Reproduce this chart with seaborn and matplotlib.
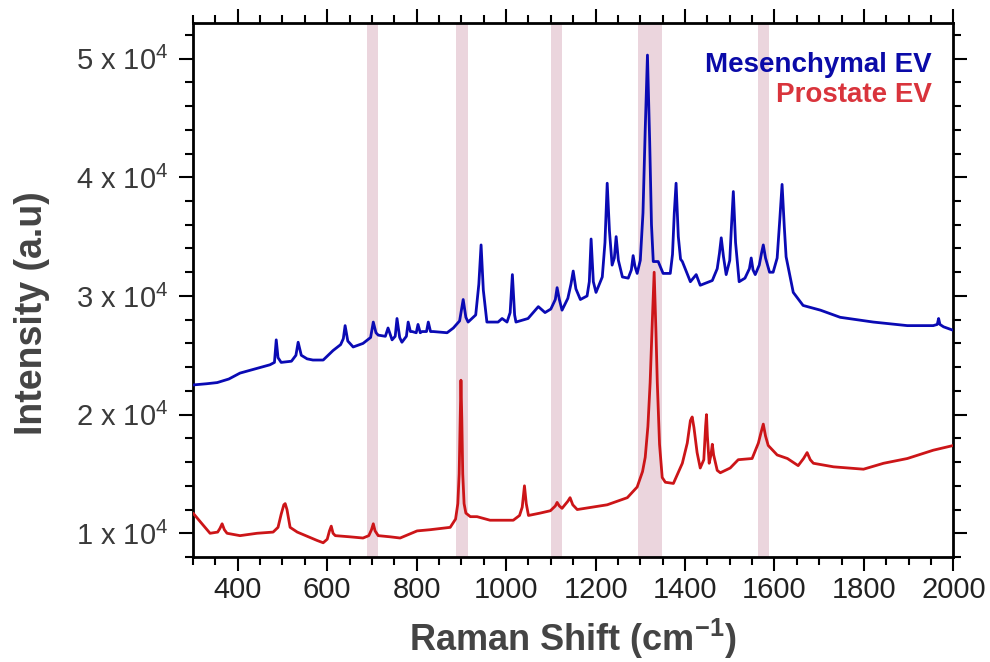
import matplotlib
matplotlib.use("Agg")
import matplotlib.pyplot as plt
import pandas as pd
import seaborn as sns
from matplotlib.ticker import MultipleLocator, FuncFormatter

# Raman spectra (shift in cm-1, intensity in a.u.)
mesen_shift = [300, 330, 354, 380, 405, 443, 472, 482, 486, 490, 497, 520, 530, 535, 542, 555, 568, 591,
               613, 630, 636, 640, 646, 658, 680, 697, 703, 709, 714, 730, 736, 745, 752, 756, 762, 767,
               777, 781, 786, 790, 799, 803, 808, 812, 822, 826, 831, 837, 868, 882, 896, 904, 910, 915,
               932, 939, 944, 949, 957, 982, 991, 1002, 1009, 1014, 1019, 1022, 1049, 1072, 1087, 1100,
               1110, 1114, 1119, 1125, 1138, 1145, 1150, 1156, 1166, 1181, 1186, 1190, 1195, 1201, 1215,
               1221, 1226, 1231, 1237, 1242, 1246, 1251, 1260, 1273, 1280, 1284, 1288, 1293, 1300, 1306,
               1311, 1316, 1321, 1325, 1329, 1340, 1351, 1367, 1372, 1376, 1380, 1385, 1390, 1394, 1412,
               1425, 1434, 1461, 1472, 1477, 1481, 1486, 1492, 1500, 1504, 1508, 1513, 1521, 1534, 1544,
               1548, 1552, 1557, 1566, 1571, 1575, 1580, 1589, 1597, 1606, 1612, 1617, 1622, 1626, 1642,
               1664, 1703, 1747, 1821, 1897, 1955, 1964, 1967, 1970, 1978, 2000]
mesen_int = [22500, 22600, 22700, 23000, 23500, 23900, 24200, 24400, 26300, 24800, 24400, 24500, 25000,
             26100, 25000, 24700, 24600, 24600, 25400, 25900, 26400, 27500, 26200, 25700, 26000, 26500,
             27800, 26900, 26700, 26600, 27300, 26300, 26600, 28100, 26500, 26100, 26600, 27800, 27000,
             27000, 26900, 27600, 26900, 27000, 27000, 27800, 27000, 27000, 26900, 27300, 27900, 29700,
             28200, 27800, 28400, 31000, 34300, 30500, 27800, 27800, 28100, 27800, 28600, 31800, 28400,
             27800, 28100, 29100, 28600, 28900, 29700, 30700, 29700, 28800, 29800, 31000, 32100, 30600,
             29700, 30000, 31200, 34800, 31200, 30300, 31600, 34500, 39500, 35500, 32600, 33200, 35000,
             33000, 31600, 31500, 32200, 33400, 32500, 31900, 33000, 37000, 44000, 50300, 43000, 36000,
             32900, 32900, 31900, 31900, 33500, 37000, 39500, 35000, 33100, 32900, 31200, 31800, 30900,
             31300, 32300, 33600, 34900, 33300, 31800, 33000, 36000, 38800, 34500, 31200, 31500, 32300,
             33200, 32200, 31800, 32600, 33600, 34300, 33200, 32000, 32000, 33200, 36500, 39400, 35800,
             33300, 30300, 29200, 28800, 28200, 27800, 27500, 27500, 27600, 28100, 27600, 27400, 27100]

prost_shift = [300, 320, 338, 355, 360, 365, 370, 376, 405, 443, 479, 490, 497, 503, 506, 510, 517, 533,
               577, 591, 600, 605, 609, 613, 618, 651, 680, 693, 699, 703, 707, 714, 741, 763, 801, 830,
               875, 887, 892, 895, 897, 899, 901, 903, 906, 910, 920, 935, 964, 1016, 1030, 1036, 1041,
               1045, 1050, 1076, 1099, 1110, 1114, 1119, 1125, 1138, 1143, 1149, 1159, 1226, 1271, 1293,
               1305, 1311, 1317, 1322, 1327, 1331, 1335, 1338, 1343, 1349, 1356, 1374, 1394, 1405, 1412,
               1416, 1420, 1427, 1434, 1442, 1446, 1448, 1450, 1454, 1458, 1461, 1464, 1472, 1479, 1501,
               1519, 1550, 1564, 1570, 1575, 1580, 1586, 1606, 1629, 1653, 1665, 1673, 1680, 1687, 1732,
               1799, 1844, 1897, 1955, 2000]
prost_int = [11700, 10800, 10000, 10100, 10400, 10800, 10300, 10000, 9800, 10000, 10100, 10500, 11600,
             12400, 12500, 12000, 10500, 10100, 9400, 9200, 9500, 10200, 10600, 10000, 9800, 9700, 9600,
             9800, 10300, 10800, 10200, 9800, 9700, 9600, 10200, 10300, 10500, 11200, 12500, 15000,
             19000, 22900, 19500, 15000, 12500, 11700, 11400, 11400, 11100, 11100, 11500, 12200, 14000,
             12500, 11500, 11700, 11900, 12300, 12600, 12300, 12100, 12700, 13000, 12400, 12000, 12400,
             13000, 13900, 15200, 16400, 19000, 22700, 28000, 32000, 27000, 22700, 17500, 14700, 14300,
             14200, 15900, 17600, 19500, 19800, 18900, 16800, 15500, 16200, 19000, 20000, 18200, 15900,
             16600, 17500, 16600, 15300, 15100, 15500, 16200, 16300, 17600, 18500, 19200, 18200, 17400,
             16600, 16300, 15700, 16300, 16800, 16200, 15900, 15600, 15400, 15900, 16300, 17000, 17400]

# highlighted Raman bands (cm-1)
band_lo = [688, 889, 1100, 1294, 1563]
band_hi = [713, 914, 1124, 1348, 1588]

series_names = ["Mesenchymal EV", "Prostate EV"]
line_colors = ["#0a0ab4", "#cc1518"]
text_colors = ["#0a0aa8", "#d9343c"]

df = pd.concat([
    pd.DataFrame({"shift": mesen_shift, "intensity": mesen_int, "sample": series_names[0]}),
    pd.DataFrame({"shift": prost_shift, "intensity": prost_int, "sample": series_names[1]}),
], ignore_index=True)

sns.set_theme(style="ticks")
plt.rcParams["font.family"] = ["Liberation Sans", "DejaVu Sans"]
plt.rcParams["mathtext.default"] = "regular"

fig = plt.figure(figsize=(9.9, 6.62), dpi=100)
ax = fig.add_axes([0.195, 0.1586, 0.768, 0.8066])

for lo, hi in zip(band_lo, band_hi):
    ax.axvspan(lo, hi, color="#ebd5dd", lw=0, zorder=0)

sns.lineplot(data=df, x="shift", y="intensity", hue="sample", palette=line_colors,
             estimator=None, sort=False, lw=2.0, legend=False, ax=ax, zorder=3)

ax.set_xlim(300, 2000)
ax.set_ylim(8000, 53000)
ax.xaxis.set_major_locator(MultipleLocator(200))
ax.xaxis.set_minor_locator(MultipleLocator(50))
ax.yaxis.set_major_locator(MultipleLocator(10000))
ax.yaxis.set_minor_locator(MultipleLocator(2000))
ax.yaxis.set_major_formatter(FuncFormatter(lambda v, p: f"{int(round(v / 1e4))} x 10$^{{4}}$"))

for s in ax.spines.values():
    s.set_linewidth(2)
    s.set_color("black")
ax.tick_params(which="both", direction="out", top=True, right=True,
               labeltop=False, labelright=False, color="black", width=1.5)
ax.tick_params(which="major", length=10)
ax.tick_params(which="minor", length=6)
ax.tick_params(axis="x", which="major", labelsize=21, pad=4, labelcolor="#222222")
ax.tick_params(axis="y", which="major", labelsize=21, pad=8, labelcolor="#3a3a3a")

ax.set_xlabel("Raman Shift (cm$^{-1}$)", fontsize=26, fontweight="bold", color="#444444")
ax.set_ylabel("Intensity (a.u)", fontsize=27, fontweight="bold", color="#444444")
ax.xaxis.set_label_coords(0.5, -0.112)
ax.yaxis.set_label_coords(-0.188, 0.457)

ax.text(0.972, 0.908, series_names[0], transform=ax.transAxes, ha="right", va="baseline",
        fontsize=20, fontweight="bold", color=text_colors[0])
ax.text(0.972, 0.852, series_names[1], transform=ax.transAxes, ha="right", va="baseline",
        fontsize=20, fontweight="bold", color=text_colors[1])

fig.savefig("out.png", dpi=100)
